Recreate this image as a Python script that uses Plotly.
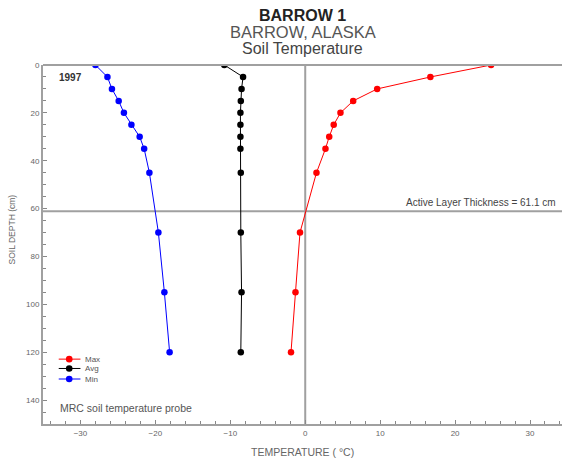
import plotly.graph_objects as go

depth = [0, 5, 10, 15, 20, 25, 30, 35, 45, 70, 95, 120]
t_max = [24.8, 16.7, 9.6, 6.4, 4.7, 3.8, 3.2, 2.7, 1.5, -0.7, -1.3, -1.9]
t_avg = [-10.8, -8.3, -8.5, -8.6, -8.65, -8.65, -8.65, -8.65, -8.6, -8.6, -8.5, -8.6]
t_min = [-28.0, -26.4, -25.8, -24.9, -24.2, -23.2, -22.1, -21.5, -20.8, -19.6, -18.8, -18.1]
series_names = ["Max", "Avg", "Min"]
series_colors = ["#ff0000", "#000000", "#0000ff"]
active_layer = 61.1
x_ticks = [-30, -20, -10, 0, 10, 20, 30]
y_ticks = [0, 20, 40, 60, 80, 100, 120, 140]

FONT = "Liberation Sans, Arial, sans-serif"
fig = go.Figure()
for name, vals, col in zip(series_names, [t_max, t_avg, t_min], series_colors):
    fig.add_trace(go.Scatter(x=vals, y=depth, mode="lines+markers", name=name,
                             line=dict(color=col, width=1),
                             marker=dict(color=col, size=6.5), showlegend=False))

# reference lines
fig.add_shape(type="line", xref="x", yref="paper", x0=0, x1=0, y0=0, y1=1,
              line=dict(color="#a0a0a0", width=2), layer="below")
fig.add_shape(type="line", xref="paper", yref="y", x0=0, x1=1, y0=active_layer, y1=active_layer,
              line=dict(color="#a0a0a0", width=2), layer="below")
fig.add_shape(type="line", xref="paper", yref="paper", x0=0, x1=1, y0=1, y1=1,
              line=dict(color="#a0a0a0", width=2))

# compact legend (Max / Avg / Min)
leg_y = [122.9, 126.8, 131.2]
for name, col, ly in zip(series_names, series_colors, leg_y):
    fig.add_shape(type="line", xref="x", yref="y", x0=-32.9, x1=-30.0, y0=ly, y1=ly,
                  line=dict(color=col, width=1))
    fig.add_shape(type="circle", xref="x", yref="y", xsizemode="pixel", ysizemode="pixel",
                  xanchor=-31.5, yanchor=ly, x0=-3.3, x1=3.3, y0=-3.3, y1=3.3,
                  fillcolor=col, line=dict(color=col, width=0))
    fig.add_annotation(x=-29.6, y=ly, xref="x", yref="y", xanchor="left", showarrow=False,
                       text=name, font=dict(family=FONT, size=8, color="#555"))

# titles
fig.add_annotation(x=0.5, y=1, xref="paper", yref="paper", yanchor="middle", yshift=50, showarrow=False,
                   text="<b>BARROW 1</b>", font=dict(family=FONT, size=16, color="#222"))
fig.add_annotation(x=0.5, y=1, xref="paper", yref="paper", yanchor="middle", yshift=33, showarrow=False,
                   text="BARROW, ALASKA", font=dict(family=FONT, size=16.5, color="#555"))
fig.add_annotation(x=0.5, y=1, xref="paper", yref="paper", yanchor="middle", yshift=17, showarrow=False,
                   text="Soil Temperature", font=dict(family=FONT, size=16, color="#444"))

fig.add_annotation(x=0.027, y=5.4, xref="paper", yref="y", xanchor="left", showarrow=False,
                   text="<b>1997</b>", font=dict(family=FONT, size=10, color="#333"))
fig.add_annotation(x=0.992, y=active_layer, xref="paper", yref="y", xanchor="right",
                   yanchor="bottom", yshift=1, showarrow=False,
                   text="Active Layer Thickness = 61.1 cm", font=dict(family=FONT, size=10, color="#444"))
fig.add_annotation(x=0.029, y=143.3, xref="paper", yref="y", xanchor="left", showarrow=False,
                   text="MRC soil temperature probe", font=dict(family=FONT, size=10.5, color="#555"))
fig.add_annotation(x=-0.0597, y=68.7, xref="paper", yref="y", xanchor="center", yanchor="middle",
                   textangle=-90, showarrow=False,
                   text="SOIL DEPTH (cm)", font=dict(family=FONT, size=8.5, color="#666"))
fig.add_annotation(x=0.5, y=0, xref="paper", yref="paper", yanchor="middle", yshift=-28,
                   showarrow=False, text="TEMPERATURE ( °C)",
                   font=dict(family=FONT, size=10.5, color="#666"))

fig.update_layout(
    width=562, height=461,
    margin=dict(l=43, r=0, t=65, b=37, autoexpand=False),
    paper_bgcolor="white", plot_bgcolor="white",
    showlegend=False,
    font=dict(family=FONT),
)
fig.update_xaxes(range=[-35, 34.27], tickvals=x_ticks, ticks="inside", ticklen=4,
                 minor=dict(dtick=2, ticks="inside", ticklen=3, tickcolor="#888"),
                 tickcolor="#888", showgrid=False, zeroline=False, automargin=False,
                 showline=True, linecolor="#a0a0a0", linewidth=2,
                 tickfont=dict(size=8, color="#666"))
fig.update_yaxes(range=[150, 0], tickvals=y_ticks, ticks="inside", ticklen=4,
                 minor=dict(dtick=5, ticks="inside", ticklen=3, tickcolor="#888"),
                 tickcolor="#888", showgrid=False, zeroline=False, automargin=False,
                 showline=True, linecolor="#a0a0a0", linewidth=2,
                 tickfont=dict(size=8, color="#666"))

fig.write_html("out.html", config={"displayModeBar": False},
               post_script="document.body.style.margin='0';document.body.style.overflow='hidden';")
